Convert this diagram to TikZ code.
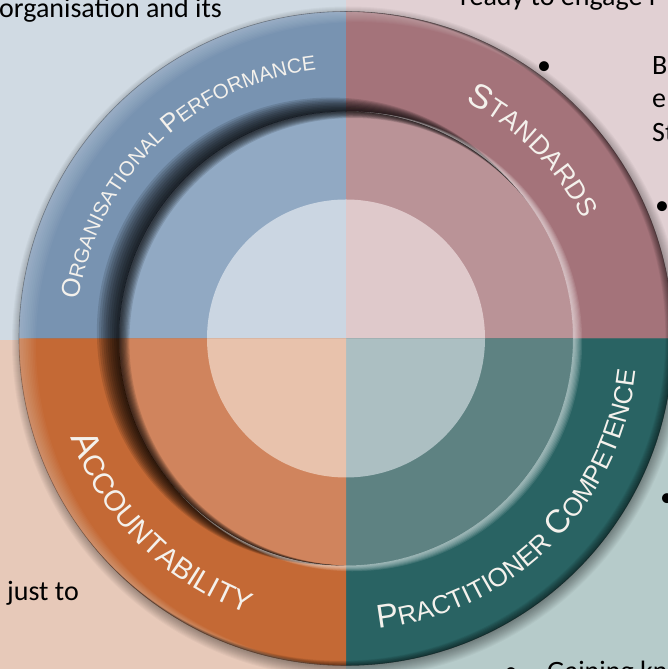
\documentclass[tikz,border=0pt]{standalone}
\usepackage{fontspec}
\setmainfont{Carlito}
\newfontfamily\lblfont{Liberation Sans}
\usetikzlibrary{decorations.text}
\definecolor{bgTL}{HTML}{D0DAE3}
\definecolor{bgTR}{HTML}{E1D0D3}
\definecolor{bgBL}{HTML}{E7C9B9}
\definecolor{bgBR}{HTML}{B6CBCA}
\definecolor{bandTL}{HTML}{7893B1}
\definecolor{midTL}{HTML}{91A9C3}
\definecolor{inTL}{HTML}{CBD6E2}
\definecolor{bandTR}{HTML}{A4737A}
\definecolor{midTR}{HTML}{BA9397}
\definecolor{inTR}{HTML}{DFC9CB}
\definecolor{bandBL}{HTML}{C46935}
\definecolor{midBL}{HTML}{D0845D}
\definecolor{inBL}{HTML}{E8C2AC}
\definecolor{bandBR}{HTML}{296363}
\definecolor{midBR}{HTML}{5E8282}
\definecolor{inBR}{HTML}{ACBFC2}
\definecolor{lblcol}{HTML}{F4F1EC}
\newcommand\LOa{\lblfont\fontsize{26}{26}\selectfont}
\newcommand\LOb{\lblfont\fontsize{20.5}{20.5}\selectfont}
\newcommand\LSa{\lblfont\fontsize{34}{34}\selectfont}
\newcommand\LSb{\lblfont\fontsize{26.5}{26.5}\selectfont}
\newcommand\LAa{\lblfont\fontsize{37}{37}\selectfont}
\newcommand\LAb{\lblfont\fontsize{29}{29}\selectfont}
\newcommand\LPa{\lblfont\fontsize{33}{33}\selectfont}
\newcommand\LPb{\lblfont\fontsize{26}{26}\selectfont}
\tikzset{
  bodytext/.style={inner sep=0pt, font=\fontsize{28}{34}\selectfont, text=black},
  lbl/.style={decorate, decoration={text along path, text color=lblcol, text align=center, text={#1}}},
  crescent/.style={even odd rule}
}
\begin{document}
\begin{tikzpicture}[x=1pt,y=1pt]
\useasboundingbox (0,0) rectangle (668,669);
\clip (0,0) rectangle (668,669);
% background quadrants
\fill[bgTL] (0,329) rectangle (346,669);
\fill[bgTR] (346,329) rectangle (668,669);
\fill[bgBL] (0,0) rectangle (346,329);
\fill[bgBR] (346,0) rectangle (668,329);
% background texts
\node[bodytext, anchor=base west] (torg) at (-1,651) {organisation and its};
\node[bodytext, anchor=base west] (tready) at (460,663.5) {ready to engage i};
\node[bodytext, anchor=base] (b1) at (544,594) {•};
\node[bodytext, anchor=base west] (tB) at (652,594) {B};
\node[bodytext, anchor=base west] (te) at (652,561) {e};
\node[bodytext, anchor=base west] (tSt) at (652,527) {St};
\node[bodytext, anchor=base] (b2) at (662,454) {•};
\node[bodytext, anchor=base] (b3) at (667,162) {•};
\node[bodytext, anchor=base] (b4) at (511,-12) {•};
\node[bodytext, anchor=base west] (tgain) at (547,-12) {Gaining kn};
\node[bodytext, anchor=base west] (tjust) at (7,68) {just to};
\begin{scope}[shift={(346,330.5)}]
  % drop shadow
  \foreach \i in {0,...,16} \fill[black, opacity=0.03] (2,-4) circle (320+\i);
  % outer band
  \fill[bandTL] (0,0) -- (180:327) arc[start angle=180,end angle=90,radius=327] -- cycle;
  \fill[bandTR] (0,0) -- (90:327) arc[start angle=90,end angle=0,radius=327] -- cycle;
  \fill[bandBR] (0,0) -- (0:327) arc[start angle=0,end angle=-90,radius=327] -- cycle;
  \fill[bandBL] (0,0) -- (270:327) arc[start angle=270,end angle=180,radius=327] -- cycle;
  % middle ring
  \fill[midTL] (0,0) -- (180:227) arc[start angle=180,end angle=90,radius=227] -- cycle;
  \fill[midTR] (0,0) -- (90:227) arc[start angle=90,end angle=0,radius=227] -- cycle;
  \fill[midBR] (0,0) -- (0:227) arc[start angle=0,end angle=-90,radius=227] -- cycle;
  \fill[midBL] (0,0) -- (270:227) arc[start angle=270,end angle=180,radius=227] -- cycle;
  % inner disc
  \fill[inTL] (0,0) -- (180:139) arc[start angle=180,end angle=90,radius=139] -- cycle;
  \fill[inTR] (0,0) -- (90:139) arc[start angle=90,end angle=0,radius=139] -- cycle;
  \fill[inBR] (0,0) -- (0:139) arc[start angle=0,end angle=-90,radius=139] -- cycle;
  \fill[inBL] (0,0) -- (270:139) arc[start angle=270,end angle=180,radius=139] -- cycle;
  % groove: band side (outside r=227)
  \begin{scope}[even odd rule]
    \clip (0,0) circle (327) (0,0) circle (227);
    \foreach \i in {0,...,9} {
      \pgfmathsetmacro\dd{(3+2.3*\i)/1.4}
      \fill[black, opacity=0.12] (155:\dd) circle (227+0.4*\dd);
    }
    \foreach \i in {0,...,6} {
      \pgfmathsetmacro\dd{(2+1.3*\i)/1.4}
      \fill[white, opacity=0.1] (335:\dd) circle (227+0.4*\dd);
    }
  \end{scope}
  % groove: middle-ring side (inside r=227)
  \begin{scope}
    \clip (0,0) circle (227);
    \foreach \i in {0,...,7} {
      \pgfmathsetmacro\dd{(2+1.3*\i)/1.4}
      \fill[black, opacity=0.12, crescent] (0,0) circle (260) (335:\dd) circle (227-0.4*\dd);
    }
  \end{scope}
  % outer rim bevel
  \begin{scope}
    \clip (0,0) circle (327);
    \foreach \i in {0,...,9} {
      \pgfmathsetmacro\dd{(2+1.8*\i)/1.4}
      \fill[white, opacity=0.03, crescent] (0,0) circle (340) (335:\dd) circle (327-0.4*\dd);
    }
    \foreach \i in {0,...,8} {
      \pgfmathsetmacro\dd{(1+0.9*\i)/1.4}
      \fill[black, opacity=0.06, crescent] (0,0) circle (340) (155:\dd) circle (327-0.4*\dd);
    }
  \end{scope}
  \draw[black, opacity=0.3, line width=0.6] (0,0) circle (327);
  % labels
  \path[lbl={|\LOa|O|\LOb|RGANISATIONAL |\LOa|P|\LOb|ERFORMANCE}] (184:270) arc[start angle=184, end angle=84, radius=270];
  \path[lbl={|\LSa|S|\LSb|TANDARDS}] (90:265) arc[start angle=90, end angle=0, radius=265];
  \path[lbl={|\LAa|A|\LAb|CCOUNTABILITY}] (180:292) arc[start angle=180, end angle=270, radius=292];
  \path[lbl={|\LPa|P|\LPb|RACTITIONER |\LPa|C|\LPb|OMPETENCE}] (270:292) arc[start angle=270, end angle=360, radius=292];
\end{scope}
\end{tikzpicture}
\end{document}
